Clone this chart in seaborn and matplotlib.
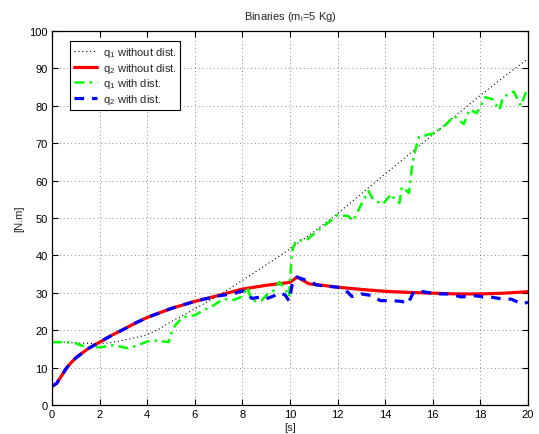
import numpy as np
import pandas as pd
import matplotlib
matplotlib.use("Agg")
import matplotlib.pyplot as plt
import seaborn as sns

# ---- data ----
t_q1 = [0, 1, 2, 2.5, 3, 3.5, 4, 4.5, 5, 5.5, 6, 6.5, 7, 7.5, 8, 8.5, 9, 9.5, 10,
        11, 12, 13, 14, 15, 16, 17, 18, 19, 20]
q1_nodist = [17.0, 16.6, 16.4, 16.7, 17.3, 18.0, 18.8, 20.3, 22.3, 24.0, 25.7, 27.5,
             29.3, 31.3, 33.3, 35.4, 37.5, 39.6, 41.7, 46.3, 51.2, 56.5, 61.8, 67.0,
             72.3, 77.6, 82.8, 87.8, 92.6]

t_q2 = [0, 0.2, 0.4, 0.6, 0.8, 1, 1.5, 2, 2.5, 3, 3.5, 4, 5, 6, 7, 8, 9, 10, 10.3,
        10.8, 11.5, 12, 13, 14, 15, 16, 17, 18, 19, 20]
q2_nodist = [5.0, 5.8, 7.8, 9.8, 11.3, 12.6, 15.0, 16.8, 18.6, 20.2, 21.9, 23.4, 25.8,
             27.7, 29.3, 31.0, 32.0, 32.8, 34.2, 32.4, 31.9, 31.5, 30.9, 30.4, 30.1,
             29.9, 29.7, 29.7, 29.9, 30.3]

t_q1d = [0, 0.6, 1.0, 1.4, 2.0, 2.6, 3.15, 3.6, 4.0, 4.4, 4.9, 5.05, 5.2, 5.5, 6.0,
         6.3, 6.7, 7.2, 7.65, 8.0, 8.2, 8.4, 8.8, 9.1, 9.3, 9.55, 9.8, 9.96, 10.08,
         10.25, 10.7, 11.05, 11.6, 12.0, 12.45, 12.65, 13.0, 13.3, 13.5, 13.9, 14.25,
         14.4, 14.6, 14.7, 15.0, 15.15, 15.4, 16.05, 16.5, 16.9, 17.3, 17.55, 17.85,
         18.2, 18.5, 18.8, 18.95, 19.4, 19.7, 19.9, 20.0]
q1_dist = [16.8, 16.8, 16.5, 15.5, 15.4, 16.0, 15.2, 15.9, 17.0, 17.2, 16.8, 20.0,
           21.5, 23.5, 24.0, 25.1, 26.3, 28.3, 28.1, 29.0, 31.5, 27.8, 27.9, 30.0,
           30.5, 32.9, 31.0, 29.0, 41.0, 44.0, 44.1, 46.0, 48.7, 50.8, 50.5, 49.2,
           53.7, 57.2, 54.8, 53.7, 56.4, 55.0, 54.0, 58.3, 56.7, 65.0, 71.6, 72.7,
           74.6, 77.3, 75.1, 79.0, 78.0, 82.3, 81.8, 78.9, 82.3, 83.8, 80.0, 83.4, 84.0]

t_q2d = [0, 0.2, 0.4, 0.6, 0.8, 1, 1.5, 2, 2.5, 3, 3.5, 4, 5, 6, 7, 7.6, 8.0, 8.2,
         8.4, 8.7, 8.95, 9.3, 9.55, 9.8, 9.96, 10.1, 10.3, 10.6, 10.9, 11.1, 11.5,
         12.0, 12.3, 12.6, 13.0, 13.4, 13.8, 14.3, 14.7, 14.95, 15.2, 15.6, 16.1,
         16.6, 17.2, 17.8, 18.1, 18.5, 18.95, 19.3, 19.75, 20.0]
q2_dist = [5.0, 5.8, 7.8, 9.8, 11.3, 12.6, 15.0, 16.8, 18.6, 20.2, 21.9, 23.4, 25.8,
           27.7, 29.2, 29.7, 30.5, 29.5, 28.5, 28.8, 28.3, 29.1, 30.0, 29.4, 27.8,
           32.5, 34.2, 33.5, 33.0, 32.1, 31.8, 31.5, 31.0, 29.0, 29.7, 29.3, 27.9,
           27.9, 27.7, 27.0, 30.3, 30.3, 29.7, 29.7, 28.9, 29.2, 28.9, 28.8, 28.3,
           28.3, 27.0, 27.5]

labels = [r"q$_1$ without dist.", r"q$_2$ without dist.",
          r"q$_1$ with dist.", r"q$_2$ with dist."]
x_ticks = [0, 2, 4, 6, 8, 10, 12, 14, 16, 18, 20]
y_ticks = [0, 10, 20, 30, 40, 50, 60, 70, 80, 90, 100]

# ---- styling ----
sns.set_style("white")
plt.rcParams["font.family"] = ["Liberation Sans", "DejaVu Sans"]
plt.rcParams["mathtext.fontset"] = "custom"
plt.rcParams["mathtext.rm"] = "Liberation Sans"
plt.rcParams["mathtext.it"] = "Liberation Sans"
plt.rcParams["mathtext.default"] = "regular"

fig = plt.figure(figsize=(5.39, 4.35), dpi=100)
ax = fig.add_axes([52 / 539, 29 / 435, 476 / 539, 374 / 435])

series = [
    (t_q1, q1_nodist, labels[0], dict(color="black", lw=0.8, linestyle=(0, (1, 2.5)))),
    (t_q2, q2_nodist, labels[1], dict(color="red", lw=2.3, linestyle="-")),
    (t_q1d, q1_dist, labels[2], dict(color=(0, 1, 0), lw=1.8, linestyle=(0, (4, 2, 1, 2)))),
    (t_q2d, q2_dist, labels[3], dict(color=(0, 0, 1), lw=2.3, linestyle=(0, (3, 2.5)))),
]
for tt, vv, lab, st in series:
    df = pd.DataFrame({"t": tt, "v": vv})
    sns.lineplot(data=df, x="t", y="v", ax=ax, label=lab, sort=False,
                 estimator=None, **st)

ax.set_xlim(0, 20)
ax.set_ylim(0, 100)
ax.set_xticks(x_ticks)
ax.set_yticks(y_ticks)
ax.set_xticklabels([str(v) for v in x_ticks])
ax.set_yticklabels([str(v) for v in y_ticks])
ax.tick_params(direction="in", length=4, width=0.8, labelsize=8, top=True,
               right=True, bottom=True, left=True, pad=3, colors="black")
ax.grid(True, color="black", linestyle=(0, (1, 3.5)), linewidth=0.6, alpha=0.6)
for s in ax.spines.values():
    s.set_color("black")
    s.set_linewidth(0.9)

ax.set_xlabel("[s]", fontsize=8, labelpad=2)
ax.set_ylabel("[N.m]", fontsize=8, labelpad=4)
ax.set_title(r"Binaries (m$_i$=5 Kg)", fontsize=8, pad=9)

leg = ax.legend(loc="upper left", bbox_to_anchor=(0.038, 0.973), borderaxespad=0,
                fontsize=8, frameon=True, fancybox=False, shadow=False,
                handlelength=2.1, handletextpad=0.5, labelspacing=0.15,
                borderpad=0.35)
leg.get_frame().set_edgecolor("black")
leg.get_frame().set_linewidth(0.8)
leg.get_frame().set_alpha(1)

fig.savefig("out.png", dpi=100)
